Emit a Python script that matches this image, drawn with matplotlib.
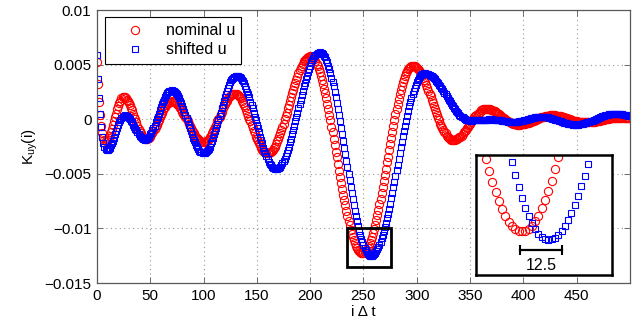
import matplotlib
matplotlib.use("Agg")
import matplotlib.pyplot as plt
import matplotlib.patches as patches
import numpy as np

plt.rcParams["font.family"] = ["Liberation Sans", "DejaVu Sans"]
plt.rcParams["mathtext.default"] = "regular"

# K_uy(i), in units of 1e-3, one value per sample i = 0..499
nominal_u = [
    5.2, 3.2, 1.6, 0.4, -0.6, -1.3, -1.7, -1.9, -2.0, -2.0,
    -1.9, -1.7, -1.5, -1.2, -0.9, -0.5, -0.2, 0.2, 0.5, 0.9,
    1.2, 1.5, 1.7, 1.9, 2.0, 2.0, 2.0, 1.9, 1.8, 1.7,
    1.5, 1.3, 1.0, 0.8, 0.5, 0.2, 0.0, -0.3, -0.6, -0.9,
    -1.1, -1.3, -1.5, -1.6, -1.7, -1.8, -1.8, -1.8, -1.7, -1.7,
    -1.6, -1.4, -1.3, -1.1, -0.9, -0.7, -0.5, -0.3, -0.1, 0.2,
    0.4, 0.6, 0.8, 1.0, 1.1, 1.3, 1.4, 1.5, 1.6, 1.6,
    1.65, 1.6, 1.6, 1.6, 1.5, 1.4, 1.3, 1.2, 1.0, 0.9,
    0.7, 0.5, 0.4, 0.2, 0.0, -0.2, -0.4, -0.6, -0.8, -1.0,
    -1.2, -1.3, -1.5, -1.6, -1.7, -1.8, -1.9, -2.0, -2.1, -2.1,
    -2.1, -2.1, -2.0, -2.0, -1.9, -1.8, -1.6, -1.5, -1.3, -1.1,
    -0.9, -0.7, -0.5, -0.2, 0.0, 0.2, 0.5, 0.7, 1.0, 1.2,
    1.4, 1.6, 1.7, 1.9, 2.0, 2.1, 2.2, 2.3, 2.3, 2.35,
    2.3, 2.3, 2.2, 2.1, 2.0, 1.9, 1.7, 1.5, 1.3, 1.1,
    0.8, 0.6, 0.3, 0.0, -0.2, -0.5, -0.8, -1.1, -1.3, -1.6,
    -1.8, -2.0, -2.2, -2.4, -2.6, -2.8, -2.9, -3.0, -3.0, -3.1,
    -3.1, -3.1, -3.0, -3.0, -2.9, -2.8, -2.6, -2.5, -2.3, -2.0,
    -1.8, -1.5, -1.3, -1.0, -0.7, -0.4, 0.0, 0.3, 0.6, 1.0,
    1.3, 1.7, 2.0, 2.4, 2.7, 3.0, 3.3, 3.6, 3.9, 4.2,
    4.5, 4.7, 4.9, 5.1, 5.3, 5.4, 5.5, 5.6, 5.7, 5.7,
    5.75, 5.7, 5.7, 5.6, 5.5, 5.3, 5.1, 4.9, 4.6, 4.3,
    4.0, 3.6, 3.2, 2.8, 2.4, 1.9, 1.4, 0.9, 0.4, -0.1,
    -0.7, -1.2, -1.8, -2.4, -3.0, -3.5, -4.1, -4.7, -5.3, -5.8,
    -6.4, -6.9, -7.4, -7.9, -8.4, -8.87, -9.31, -9.72, -10.11, -10.47,
    -10.80, -11.10, -11.37, -11.60, -11.80, -11.97, -12.09, -12.19, -12.24, -12.26,
    -12.24, -12.18, -12.09, -11.96, -11.79, -11.58, -11.34, -11.06, -10.75, -10.41,
    -10.04, -9.65, -9.22, -8.77, -8.30, -7.80, -7.29, -6.76, -6.22, -5.66,
    -5.09, -4.52, -3.95, -3.42, -2.84, -2.27, -1.70, -1.14, -0.60, -0.07,
    0.44, 0.94, 1.41, 1.86, 2.29, 2.68, 3.05, 3.39, 3.70, 3.98,
    4.22, 4.42, 4.60, 4.73, 4.82, 4.88, 4.9, 4.9, 4.9, 4.8,
    4.7, 4.6, 4.5, 4.3, 4.2, 4.0, 3.8, 3.6, 3.4, 3.1,
    2.9, 2.6, 2.3, 2.1, 1.8, 1.5, 1.2, 0.9, 0.7, 0.4,
    0.1, -0.1, -0.4, -0.6, -0.8, -1.0, -1.2, -1.3, -1.5, -1.6,
    -1.7, -1.8, -1.9, -1.9, -1.9, -1.9, -1.9, -1.8, -1.8, -1.7,
    -1.6, -1.6, -1.5, -1.4, -1.2, -1.1, -1.0, -0.8, -0.7, -0.5,
    -0.4, -0.3, -0.1, 0.0, 0.2, 0.3, 0.4, 0.5, 0.6, 0.7,
    0.8, 0.8, 0.9, 0.9, 0.9, 0.95, 0.95, 0.93, 0.91, 0.89,
    0.85, 0.81, 0.76, 0.71, 0.65, 0.59, 0.52, 0.45, 0.38, 0.30,
    0.23, 0.15, 0.07, 0.00, -0.07, -0.14, -0.20, -0.26, -0.31, -0.36,
    -0.40, -0.44, -0.46, -0.48, -0.50, -0.50, -0.50, -0.49, -0.48, -0.47,
    -0.45, -0.43, -0.40, -0.38, -0.34, -0.31, -0.28, -0.24, -0.20, -0.16,
    -0.12, -0.07, -0.03, 0.01, 0.05, 0.09, 0.13, 0.16, 0.19, 0.23,
    0.25, 0.28, 0.30, 0.32, 0.33, 0.34, 0.35, 0.35, 0.35, 0.34,
    0.34, 0.32, 0.31, 0.29, 0.27, 0.25, 0.22, 0.20, 0.17, 0.14,
    0.11, 0.07, 0.04, 0.01, -0.02, -0.06, -0.09, -0.12, -0.15, -0.17,
    -0.20, -0.22, -0.24, -0.26, -0.27, -0.29, -0.29, -0.30, -0.30, -0.30,
    -0.30, -0.29, -0.28, -0.27, -0.26, -0.25, -0.23, -0.22, -0.20, -0.18,
    -0.16, -0.14, -0.12, -0.10, -0.08, -0.05, -0.03, -0.01, 0.01, 0.03,
    0.05, 0.07, 0.08, 0.10, 0.11, 0.12, 0.13, 0.14, 0.15, 0.15,
    0.15, 0.15, 0.15, 0.14, 0.14, 0.13, 0.13, 0.12, 0.12, 0.11,
]

shifted_u = [
    5.9, 3.7, 1.9, 0.45, -0.7, -1.6, -2.2, -2.55, -2.75, -2.85,
    -2.8, -2.7, -2.6, -2.4, -2.2, -2.0, -1.7, -1.4, -1.1, -0.8,
    -0.5, -0.3, -0.1, 0.1, 0.2, 0.3, 0.35, 0.3, 0.3, 0.2,
    0.1, 0.0, -0.2, -0.3, -0.5, -0.7, -0.9, -1.0, -1.2, -1.4,
    -1.5, -1.6, -1.7, -1.8, -1.85, -1.87, -1.85, -1.8, -1.7, -1.6,
    -1.4, -1.3, -1.0, -0.8, -0.6, -0.3, 0.0, 0.2, 0.5, 0.8,
    1.1, 1.4, 1.6, 1.8, 2.0, 2.2, 2.4, 2.5, 2.6, 2.6,
    2.65, 2.6, 2.6, 2.5, 2.4, 2.3, 2.1, 1.9, 1.7, 1.5,
    1.2, 0.9, 0.7, 0.4, 0.1, -0.2, -0.5, -0.8, -1.1, -1.4,
    -1.7, -1.9, -2.1, -2.4, -2.55, -2.7, -2.9, -3.0, -3.0, -3.1,
    -3.1, -3.1, -3.0, -2.9, -2.8, -2.7, -2.5, -2.2, -2.0, -1.7,
    -1.4, -1.1, -0.8, -0.4, -0.1, 0.3, 0.6, 1.0, 1.3, 1.7,
    2.0, 2.3, 2.6, 2.9, 3.1, 3.4, 3.6, 3.7, 3.8, 3.9,
    4.0, 4.0, 4.0, 3.9, 3.9, 3.8, 3.6, 3.5, 3.3, 3.0,
    2.8, 2.5, 2.3, 2.0, 1.6, 1.3, 1.0, 0.6, 0.2, -0.1,
    -0.5, -0.8, -1.2, -1.6, -1.9, -2.2, -2.6, -2.9, -3.1, -3.4,
    -3.6, -3.9, -4.1, -4.2, -4.4, -4.5, -4.5, -4.6, -4.6, -4.6,
    -4.5, -4.5, -4.35, -4.2, -4.0, -3.8, -3.6, -3.4, -3.1, -2.8,
    -2.5, -2.1, -1.8, -1.4, -1.0, -0.65, -0.2, 0.2, 0.6, 1.0,
    1.4, 1.8, 2.2, 2.6, 3.0, 3.3, 3.7, 4.0, 4.35, 4.6,
    4.9, 5.2, 5.4, 5.6, 5.8, 5.9, 6.0, 6.1, 6.1, 6.15,
    6.1, 6.1, 6.0, 5.8, 5.7, 5.4, 5.2, 4.9, 4.6, 4.2,
    3.8, 3.4, 3.0, 2.5, 2.0, 1.5, 0.9, 0.4, -0.2, -0.8,
    -1.4, -2.0, -2.6, -3.2, -3.8, -4.40, -5.01, -5.60, -6.19, -6.76,
    -7.31, -7.85, -8.37, -8.87, -9.34, -9.79, -10.20, -10.59, -10.95, -11.27,
    -11.56, -11.81, -12.02, -12.20, -12.34, -12.44, -12.50, -12.52, -12.50, -12.45,
    -12.37, -12.26, -12.11, -11.93, -11.72, -11.49, -11.22, -10.92, -10.60, -10.25,
    -9.88, -9.49, -9.07, -8.64, -8.19, -7.72, -7.24, -6.74, -6.24, -5.73,
    -5.21, -4.68, -4.16, -3.64, -3.11, -2.59, -2.08, -1.58, -1.08, -0.60,
    -0.13, 0.32, 0.75, 1.17, 1.56, 1.93, 2.28, 2.60, 2.90, 3.17,
    3.40, 3.61, 3.79, 3.93, 4.05, 4.13, 4.18, 4.2, 4.19, 4.18,
    4.15, 4.11, 4.06, 4.00, 3.92, 3.84, 3.75, 3.65, 3.54, 3.42,
    3.30, 3.17, 3.03, 2.88, 2.74, 2.59, 2.43, 2.28, 2.12, 1.96,
    1.80, 1.65, 1.49, 1.34, 1.20, 1.05, 0.91, 0.78, 0.66, 0.54,
    0.43, 0.33, 0.24, 0.16, 0.08, 0.02, -0.03, -0.07, -0.10, -0.11,
    -0.12, -0.12, -0.12, -0.11, -0.11, -0.11, -0.10, -0.09, -0.09, -0.08,
    -0.07, -0.06, -0.05, -0.05, -0.04, -0.03, -0.03, -0.03, -0.02, -0.02,
    -0.02, -0.02, -0.03, -0.03, -0.04, -0.05, -0.06, -0.08, -0.09, -0.11,
    -0.13, -0.14, -0.16, -0.18, -0.19, -0.21, -0.22, -0.23, -0.24, -0.24,
    -0.25, -0.25, -0.25, -0.24, -0.23, -0.22, -0.21, -0.19, -0.17, -0.15,
    -0.12, -0.10, -0.07, -0.04, -0.01, 0.01, 0.04, 0.07, 0.09, 0.12,
    0.14, 0.16, 0.18, 0.19, 0.20, 0.21, 0.22, 0.22, 0.22, 0.21,
    0.20, 0.19, 0.18, 0.16, 0.14, 0.11, 0.09, 0.06, 0.03, 0.00,
    -0.04, -0.07, -0.10, -0.14, -0.18, -0.21, -0.24, -0.28, -0.31, -0.34,
    -0.37, -0.39, -0.42, -0.44, -0.46, -0.47, -0.48, -0.49, -0.50, -0.50,
    -0.50, -0.49, -0.48, -0.47, -0.46, -0.44, -0.42, -0.39, -0.37, -0.34,
    -0.30, -0.27, -0.23, -0.19, -0.16, -0.12, -0.07, -0.03, 0.01, 0.05,
    0.09, 0.14, 0.18, 0.21, 0.25, 0.29, 0.32, 0.36, 0.39, 0.41,
    0.44, 0.46, 0.48, 0.49, 0.50, 0.51, 0.52, 0.52, 0.52, 0.51,
    0.50, 0.49, 0.47, 0.45, 0.43, 0.40, 0.37, 0.34, 0.31, 0.28,
]

x_ticks = [0, 50, 100, 150, 200, 250, 300, 350, 400, 450]
y_ticks = [-0.015, -0.01, -0.005, 0, 0.005, 0.01]
y_ticklabels = ["\u22120.015", "\u22120.01", "\u22120.005", "0", "0.005", "0.01"]

# zoomed window (box on main plot and the inset)
zoom_x = [235, 276.2]
zoom_y = [-0.01356, -0.00999]
shift_bar = 12.5

nom = np.array(nominal_u) * 1e-3
shf = np.array(shifted_u) * 1e-3
i_nom = np.arange(len(nom))
i_shf = np.arange(len(shf))

circ = dict(marker="o", ls="none", ms=5.9, mfc="none", mec=(1, 0, 0), mew=0.8)
sqr = dict(marker="s", ls="none", ms=5.0, mfc="none", mec=(0, 0, 1), mew=0.8)

fig = plt.figure(figsize=(6.33, 3.26), dpi=100)
ax = fig.add_axes([0.1532, 0.1319, 0.842, 0.8374])

ax.plot(i_nom, nom, label="nominal u", **circ)
ax.plot(i_shf, shf, label="shifted u", **sqr)

ax.set_xlim(0, 500)
ax.set_ylim(-0.015, 0.01)
ax.set_xticks(x_ticks)
ax.set_yticks(y_ticks)
ax.set_yticklabels(y_ticklabels)
ax.grid(True, linestyle=(0, (1, 3)), color="0.6", linewidth=0.8)
ax.tick_params(direction="in", top=True, right=True, length=4, width=0.6,
               labelsize=11, pad=4, colors="0.35", labelcolor="black")
for s in ax.spines.values():
    s.set_color("0.35")
    s.set_linewidth(0.9)

ax.set_xlabel("i \u0394 t", fontsize=11, labelpad=2)
ax.set_ylabel("K$_{uy}$(i)", fontsize=11, labelpad=3)

leg = ax.legend(loc="upper left", bbox_to_anchor=(0.015, 0.975), borderaxespad=0,
                fontsize=11.5, numpoints=1, handlelength=3.0, handletextpad=0.4,
                borderpad=0.4, labelspacing=0.25, fancybox=False,
                edgecolor="black", framealpha=1)
leg.get_frame().set_linewidth(0.8)

rect = patches.Rectangle((zoom_x[0], zoom_y[0]), zoom_x[1] - zoom_x[0],
                         zoom_y[1] - zoom_y[0], fill=False, edgecolor="black",
                         linewidth=2, zorder=5)
ax.add_patch(rect)

# inset
axi = fig.add_axes([0.7515, 0.1564, 0.2149, 0.368])
axi.plot(i_nom, nom, **circ)
axi.plot(i_shf, shf, **sqr)
axi.set_xlim(zoom_x)
axi.set_ylim(zoom_y)
axi.set_xticks([])
axi.set_yticks([])
for s in axi.spines.values():
    s.set_color("black")
    s.set_linewidth(1.8)

bar_c = 254.8
bar_y = -0.01282
axi.plot([bar_c - shift_bar / 2, bar_c + shift_bar / 2], [bar_y, bar_y], "k-",
         marker="|", ms=7, mew=1.5, lw=1.6)
axi.text(bar_c, -0.01328, "12.5", ha="center", va="center", fontsize=11.5)

fig.savefig("out.png", dpi=100)
